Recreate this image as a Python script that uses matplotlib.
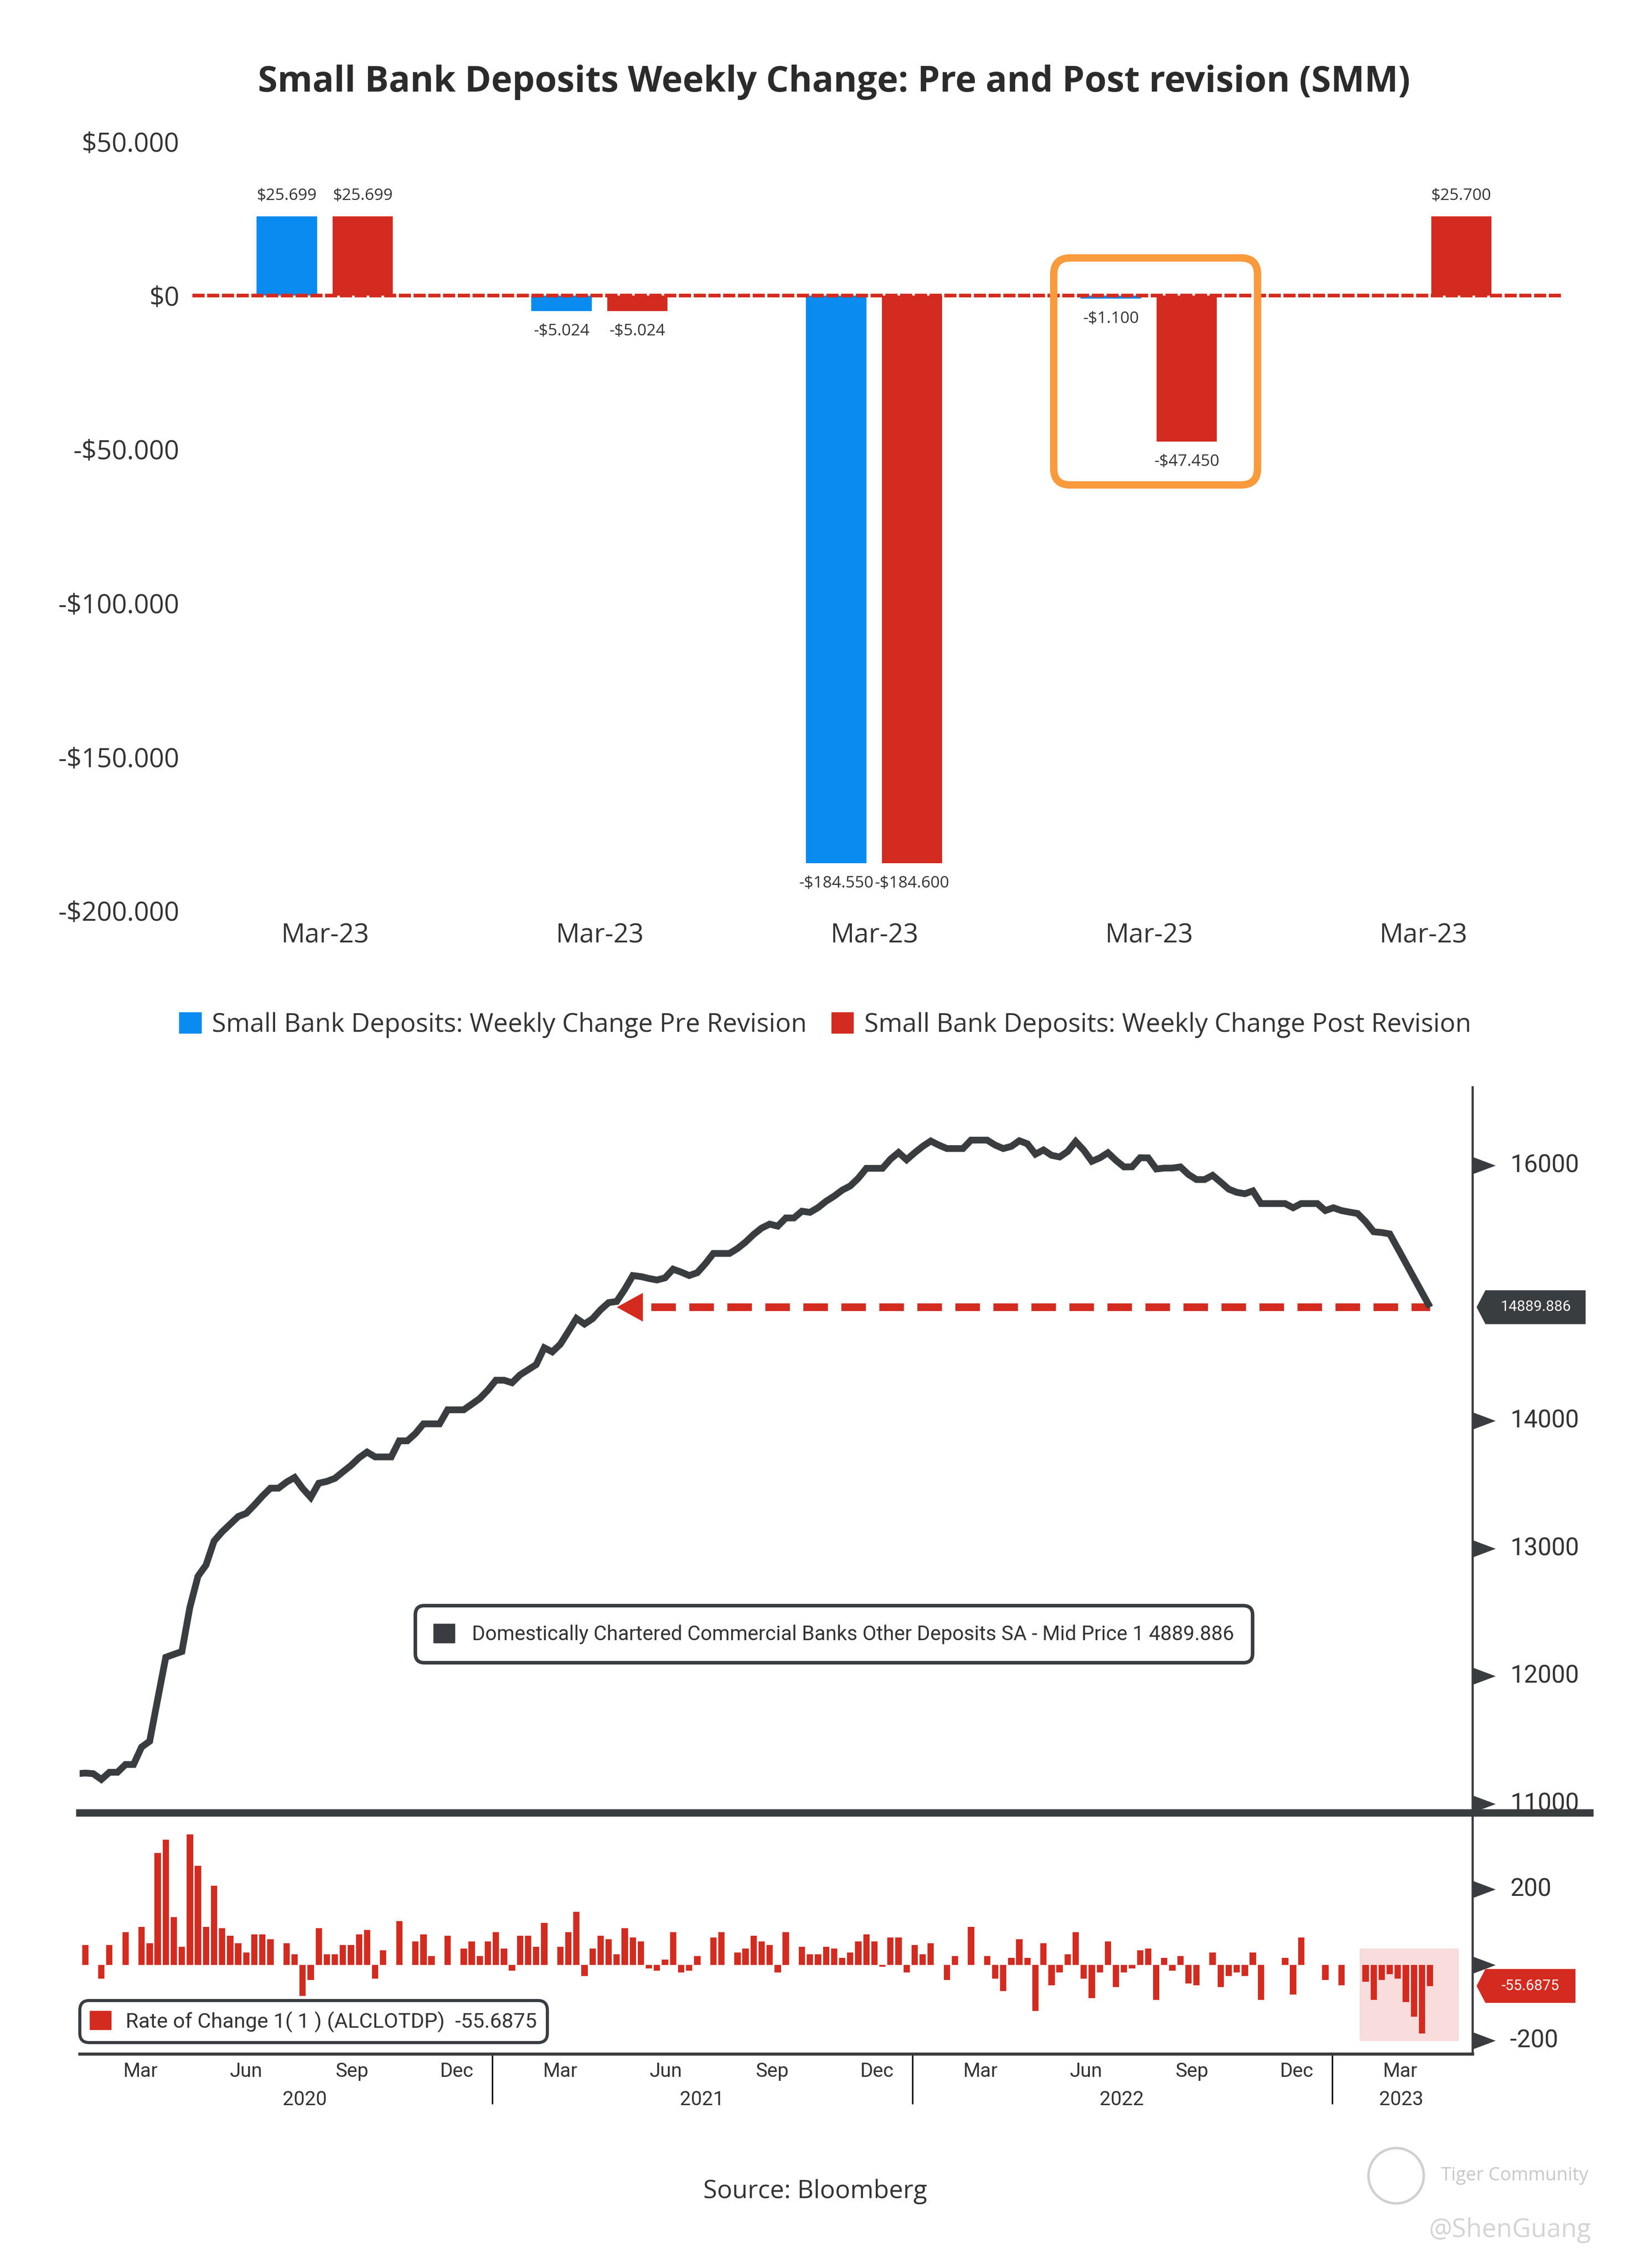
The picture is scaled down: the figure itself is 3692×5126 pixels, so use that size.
import numpy as np
import pandas as pd
import matplotlib
matplotlib.use('Agg')
import matplotlib.pyplot as plt
import matplotlib.transforms as mtransforms
from matplotlib.patches import FancyBboxPatch, Polygon, Patch, Rectangle
from matplotlib.lines import Line2D
from matplotlib.path import Path

# ---------------- top chart data ----------------
categories = ['Mar-23', 'Mar-23', 'Mar-23', 'Mar-23', 'Mar-23']
pre_revision = [25.699, -5.024, -184.550, -1.100, np.nan]
post_revision = [25.699, -5.024, -184.600, -47.450, 25.700]
top_yticks = [50, 0, -50, -100, -150, -200]
legend_top = ['Small Bank Deposits: Weekly Change Pre Revision',
              'Small Bank Deposits: Weekly Change Post Revision']

# ---------------- bottom chart data (weekly, bn USD) ----------------
first_week = '2020-01-06'
deposits = [
    11235, 11240, 11235, 11190, 11246, 11246, 11307, 11307, 11444, 11489,
    11820, 12147, 12170, 12192, 12540, 12782, 12870, 13058, 13130, 13190,
    13250, 13275, 13340, 13410, 13472, 13472, 13520, 13556, 13470, 13400,
    13511, 13525, 13549, 13600, 13650, 13710, 13755, 13717, 13717, 13717,
    13843, 13843, 13900, 13976, 13976, 13976, 14086, 14086, 14086, 14130,
    14175, 14240, 14318, 14318, 14298, 14360, 14400, 14440, 14572, 14540,
    14600, 14700, 14802, 14758, 14800, 14870, 14926, 14935, 15030, 15138,
    15130, 15115, 15103, 15120, 15188, 15165, 15138, 15160, 15230, 15311,
    15311, 15311, 15350, 15400, 15460, 15510, 15541, 15525, 15589, 15589,
    15642, 15633, 15670, 15720, 15760, 15807, 15840, 15900, 15978, 15978,
    15978, 16050, 16102, 16045, 16100, 16150, 16192, 16160, 16133, 16133,
    16133, 16199, 16199, 16199, 16160, 16133, 16150, 16194, 16170, 16089,
    16122, 16080, 16067, 16110, 16188, 16120, 16033, 16060, 16100, 16040,
    15989, 15990, 16061, 16060, 15973, 15980, 15980, 15989, 15930, 15890,
    15890, 15923, 15870, 15815, 15790, 15779, 15801, 15702, 15702, 15702,
    15702, 15669, 15702, 15702, 15702, 15647, 15669, 15647, 15635, 15624,
    15560, 15481, 15475, 15464, 15350, 15235, 15120, 15005, 14889.886,
]
weekly_change = [
    np.nan, 52, 0, -36, 52, 0, 86, 0, 101, 57,
    296, 331, 126, 48, 345, 262, 101, 209, 97, 77,
    57, 33, 81, 81, 68, 0, 57, 28, -82, -40,
    97, 28, 28, 52, 52, 81, 92, -36, 39, 0,
    116, 0, 62, 81, 23, 0, 77, 0, 43, 62,
    23, 62, 86, 43, -15, 77, 77, 48, 111, 0,
    48, 86, 140, -29, 43, 77, 68, 28, 97, 72,
    62, -10, -15, 14, 86, -20, -15, 23, 0, 72,
    86, 0, 33, 43, 77, 62, 52, -20, 86, 0,
    48, 28, 28, 48, 43, 19, 33, 62, 81, 62,
    -5, 72, 72, -20, 52, 28, 57, 0, -40, 23,
    0, 101, 0, 23, -36, -69, 19, 68, 19, -122,
    57, -54, -20, 28, 86, -36, -88, -20, 62, -59,
    -20, -10, 39, 43, -93, 19, -15, 23, -49, -54,
    0, 33, -59, -29, -20, -29, 33, -93, 0, 0,
    19, -78, 72, 0, 0, -40, 0, -54, 0, 0,
    -44, -93, -40, -25, -36, -98, -137, -181, -55.6875,
]
main_ticks = [11000, 12000, 13000, 14000, 16000]
sub_ticks = [200, 0, -200]
sub_tick_labels = ['200', '', '-200']
month_names = ['Mar', 'Jun', 'Sep', 'Dec']
years = [2020, 2021, 2022, 2023]
main_legend = 'Domestically Chartered Commercial Banks Other Deposits SA - Mid Price 1 4889.886'

BLUE = '#0A8BF0'
RED = '#D42B20'
ORANGE = '#F99A3D'
DARK = '#3A3D40'
TXT = '#333333'

plt.rcParams['font.family'] = ['Open Sans', 'DejaVu Sans']

# layout helpers (reference laid out on a 1130 x 1569 grid)
W, H = 1130.0, 1569.0
def fx(p):
    return p / W
def fy(p):
    return 1 - p / H
PX_IN = 3.267 / 100.0  # one layout unit in inches

fig = plt.figure(figsize=(36.92, 51.26), dpi=100)

# ================= top: grouped bars =================
ax1 = fig.add_axes([fx(133), fy(630), fx(1080) - fx(133), fy(98) - fy(630)])
x = np.arange(len(categories))
bw, off = 0.22, 0.138
ax1.bar(x - off, pre_revision, bw, color=BLUE, zorder=2)
ax1.bar(x + off, post_revision, bw, color=RED, zorder=2)
ax1.axhline(0, color=RED, lw=6, dashes=(3.3, 0.7), zorder=3)


def money(v):
    if v == 0:
        return '$0'
    return ('-' if v < 0 else '') + '$' + f'{abs(v):.3f}'


for xs, vals in ((x - off, pre_revision), (x + off, post_revision)):
    for xi, v in zip(xs, vals):
        if np.isnan(v):
            continue
        dy = 33 if v > 0 else -33
        ax1.annotate(money(v), (xi, v), xytext=(0, dy), textcoords='offset points',
                     ha='center', va='center', fontsize=26.5, color=TXT)

# highlight box around the 4th group
hl = FancyBboxPatch((2.654, -61.6), 3.396 - 2.654, 12.2 + 61.6,
                    boxstyle='round,pad=0,rounding_size=0.06', mutation_aspect=89,
                    fill=False, edgecolor=ORANGE, lw=12, zorder=4)
ax1.add_patch(hl)

ax1.set_xlim(-0.483, 4.5)
ax1.set_ylim(-200, 50)
ax1.set_yticks(top_yticks)
ax1.set_yticklabels([money(v) for v in top_yticks])
ax1.set_xticks(x)
ax1.set_xticklabels(categories)
ax1.tick_params(length=0, colors=TXT)
ax1.tick_params(axis='y', pad=21, labelsize=43)
ax1.tick_params(axis='x', pad=19, labelsize=43)
for s in ax1.spines.values():
    s.set_visible(False)

fig.text(fx(577), fy(57), 'Small Bank Deposits Weekly Change: Pre and Post revision (SMM)',
         ha='center', va='center', fontsize=58, fontweight='bold', color='#2B2B2B')

fig.legend(handles=[Patch(color=BLUE), Patch(color=RED)], labels=legend_top,
           loc='center', bbox_to_anchor=(fx(571), fy(709)), ncol=2, frameon=False,
           fontsize=42, handlelength=0.85, handleheight=0.85, handletextpad=0.42,
           columnspacing=0.95, labelcolor=TXT)

# ================= bottom: Bloomberg style =================
dates = pd.date_range(first_week, periods=len(deposits), freq='7D')
ax2 = fig.add_axes([fx(55), fy(1253), fx(1019) - fx(55), fy(752) - fy(1253)])
ax3 = fig.add_axes([fx(55), fy(1421), fx(1019) - fx(55), fy(1255) - fy(1421)], sharex=ax2)

ax2.plot(dates, deposits, color=DARK, lw=11, solid_joinstyle='miter', solid_capstyle='butt', zorder=3)
ax2.set_xlim(pd.Timestamp('2020-01-08'), pd.Timestamp('2023-05-03'))
ax2.set_ylim(10941, 16615)

# dashed arrow back to the level last seen in spring 2021
last = deposits[-1]
arrow_idx = 67
ax2.plot([dates[arrow_idx] + pd.Timedelta(days=30), dates[-1]], [last, last], color=RED,
         lw=12.5, dashes=(3.2, 1.75), solid_capstyle='butt', dash_capstyle='butt', zorder=2)
head = Path([(0, 0), (1, 0.55), (1, -0.55), (0, 0)], [1, 2, 2, 79])
ax2.plot([dates[arrow_idx]], [last], marker=head, ms=85, color=RED, mew=0, ls='none', zorder=2)

tri = Path([(0, -0.375), (1, 0), (0, 0.375), (0, -0.375)], [1, 2, 2, 79])
for ax, ticks, labels in ((ax2, main_ticks, [str(t) for t in main_ticks]),
                          (ax3, sub_ticks, sub_tick_labels)):
    ax.plot([1.0] * len(ticks), ticks, marker=tri, ms=75, ls='none', color=DARK, mew=0,
            transform=ax.get_yaxis_transform(), clip_on=False)
    for t, lab in zip(ticks, labels):
        ax.text(1.027, t, lab, transform=ax.get_yaxis_transform(), ha='left', va='center',
                fontsize=40, color=TXT, family='Roboto')
    ax.set_yticks([])
    for s in ax.spines.values():
        s.set_visible(False)
    ax.spines['right'].set_visible(True)
    ax.spines['right'].set_color(DARK)
    ax.spines['right'].set_linewidth(3.5)


def value_tag(ax, yval, text, color, body_w):
    base = fig.dpi_scale_trans + mtransforms.ScaledTranslation(1.0, yval, ax.get_yaxis_transform())
    k = PX_IN
    verts = [(3 * k, 0), (9 * k, 11.5 * k), (body_w * k, 11.5 * k), (body_w * k, -11.5 * k), (9 * k, -11.5 * k)]
    ax.add_patch(Polygon(verts, closed=True, transform=base, color=color, clip_on=False, zorder=5))
    ax.text((9 + body_w) / 2 * k, 0, text, transform=base, ha='center', va='center',
            fontsize=24, color='white', family='Roboto', zorder=6, clip_on=False)


value_tag(ax2, last, f'{last:.3f}', DARK, 78)

leg2 = ax2.legend(handles=[Patch(facecolor=DARK, edgecolor=DARK)], labels=[main_legend],
                  loc='center', bbox_to_anchor=(0.5415, 0.2445),
                  prop={'family': 'Roboto', 'size': 33}, handlelength=1.05, handleheight=1.05,
                  handletextpad=0.85, borderpad=0.9, fancybox=True, framealpha=1,
                  edgecolor=DARK, labelcolor=TXT)
leg2.get_frame().set_linewidth(5.8)
leg2.get_frame().set_boxstyle('round', pad=0, rounding_size=0.45)

# rate of change sub panel
ax3.add_patch(Rectangle((dates[160] - pd.Timedelta(days=5), -201), pd.Timedelta(days=86), 244,
                        color='#F9DCDC', zorder=0, lw=0))
ax3.bar(dates, weekly_change, width=5.5, color=RED, zorder=2)
ax3.set_ylim(-235.8, 398.6)
ax3.spines['bottom'].set_visible(True)
ax3.spines['bottom'].set_color(DARK)
ax3.spines['bottom'].set_linewidth(5)
value_tag(ax3, weekly_change[-1], f'{weekly_change[-1]:.4f}', RED, 71)

leg3 = ax3.legend(handles=[Patch(facecolor=RED, edgecolor=RED)],
                  labels=[f'Rate of Change 1( 1 ) (ALCLOTDP)  {weekly_change[-1]:.4f}'],
                  loc='lower left', bbox_to_anchor=(0, 0.048), borderaxespad=0,
                  prop={'family': 'Roboto', 'size': 34}, handlelength=1.0, handleheight=1.0,
                  handletextpad=0.7, borderpad=0.5, fancybox=True, framealpha=1,
                  edgecolor=DARK, labelcolor=TXT)
leg3.get_frame().set_linewidth(5.0)
leg3.get_frame().set_boxstyle('round', pad=0, rounding_size=0.45)

# month / year axis
month_dates, month_labels = [], []
for yr in years:
    for m, name in zip([3, 6, 9, 12], month_names):
        d = pd.Timestamp(yr, m, 1)
        if d <= pd.Timestamp('2023-04-30'):
            month_dates.append(d)
            month_labels.append(name)
ax3.set_xticks(month_dates)
ax3.set_xticklabels(month_labels, family='Roboto')
ax3.tick_params(axis='x', length=0, pad=13, labelsize=32, colors=TXT)
ax2.tick_params(axis='x', length=0, labelbottom=False)

year_label_dates = ['2020-07-22', '2021-07-02', '2022-07-02', '2023-03-02']
for yr, d in zip(years, year_label_dates):
    ax3.text(pd.Timestamp(d), -0.19, str(yr), transform=ax3.get_xaxis_transform(),
             ha='center', va='center', fontsize=32, color=TXT, family='Roboto')
for yr in years[1:]:
    ts = pd.Timestamp(yr, 1, 1)
    ax3.plot([ts, ts], [0, -0.205], transform=ax3.get_xaxis_transform(), clip_on=False,
             color='black', lw=2.4)

# thick separator between the two panels
fig.add_artist(Line2D([fx(55), fx(1100)], [fy(1254), fy(1254)], lw=12, color=DARK,
                      transform=fig.transFigure))

fig.text(fx(564), fy(1516), 'Source: Bloomberg', ha='center', va='center', fontsize=41, color=TXT)

# watermark
fig.add_artist(Line2D([fx(966)], [fy(1505)], marker='o', ms=90, mfc='none', mec='#D0D0D0',
                      mew=4, transform=fig.transFigure))
fig.text(fx(1048), fy(1505), 'Tiger Community', ha='center', va='center', fontsize=30,
         color='#C8C8C8')
fig.text(fx(1045), fy(1543), '@ShenGuang', ha='center', va='center', fontsize=42,
         color='#D4D4D4')

fig.savefig('out.png', dpi=100)
